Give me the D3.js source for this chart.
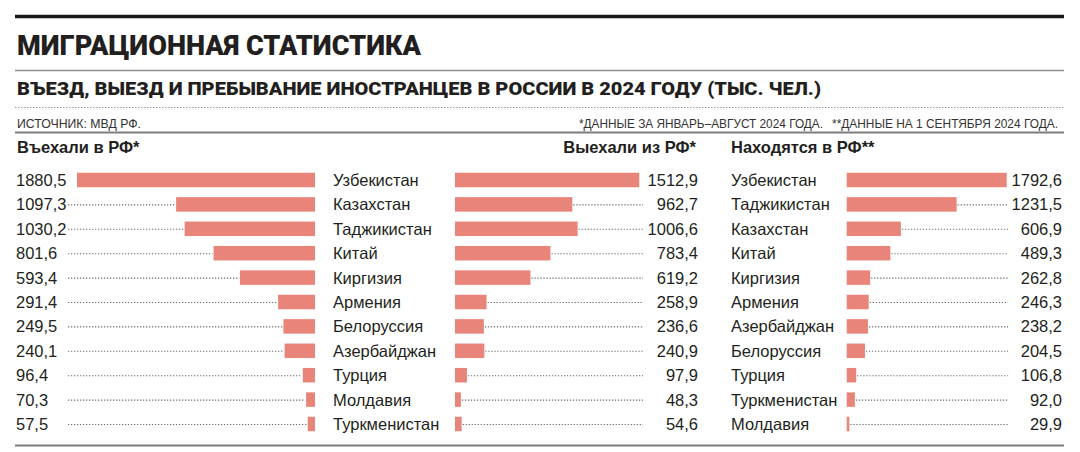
<!DOCTYPE html>
<html>
<head>
<meta charset="utf-8">
<script src="https://cdn.jsdelivr.net/npm/d3@7"></script>
<style>
  body { margin: 0; background: #fff; }
  svg { display: block; }
  text { font-family: "Liberation Sans", Arial, sans-serif; fill: #231f20; }
</style>
</head>
<body>
<div id="container"></div>
<script>
// data
var inCountries = ['Узбекистан', 'Казахстан', 'Таджикистан', 'Китай', 'Киргизия', 'Армения',
                   'Белоруссия', 'Азербайджан', 'Турция', 'Молдавия', 'Туркменистан'];
var inValues = [1880.5, 1097.3, 1030.2, 801.6, 593.4, 291.4, 249.5, 240.1, 96.4, 70.3, 57.5];
var outValues = [1512.9, 962.7, 1006.6, 783.4, 619.2, 258.9, 236.6, 240.9, 97.9, 48.3, 54.6];
var stayCountries = ['Узбекистан', 'Таджикистан', 'Казахстан', 'Китай', 'Киргизия', 'Армения',
                     'Азербайджан', 'Белоруссия', 'Турция', 'Туркменистан', 'Молдавия'];
var stayValues = [1792.6, 1231.5, 606.9, 489.3, 262.8, 246.3, 238.2, 204.5, 106.8, 92.0, 29.9];

var title = 'МИГРАЦИОННАЯ СТАТИСТИКА',
    subtitle = 'ВЪЕЗД, ВЫЕЗД И ПРЕБЫВАНИЕ ИНОСТРАНЦЕВ В РОССИИ В 2024 ГОДУ (ТЫС. ЧЕЛ.)',
    source = 'ИСТОЧНИК: МВД РФ.',
    note1 = '*ДАННЫЕ ЗА ЯНВАРЬ–АВГУСТ 2024 ГОДА.',
    note2 = '**ДАННЫЕ НА 1 СЕНТЯБРЯ 2024 ГОДА.',
    headers = ['Въехали в РФ*', 'Выехали из РФ*', 'Находятся в РФ**'];

var w = 1080, h = 452,
    barColor = '#e8847a',
    dotColor = '#6f6f6f';

var ru = d3.formatLocale({decimal: ',', thousands: '', grouping: [3], currency: ['', '']});
var fmt = ru.format('.1f');

var svg = d3.select('#container').append('svg')
    .attr('width', w)
    .attr('height', h);

/* rules */
function rule(y, sw, color, dash) {
    svg.append('line')
        .attr('x1', 15).attr('x2', 1064)
        .attr('y1', y).attr('y2', y)
        .style('stroke', color)
        .style('stroke-width', sw)
        .style('stroke-dasharray', dash || null);
}
rule(16.5, 3.5, '#1a1718');
rule(70.5, 1.5, '#8c8c8c');
rule(107.5, 1, '#9a9a9a', '1.5,1.5');
rule(132.5, 2, '#7d7d7d');
rule(445.5, 2, '#7d7d7d');

/* titles */
svg.append('text')
    .attr('x', 17).attr('y', 55)
    .attr('textLength', 404).attr('lengthAdjust', 'spacingAndGlyphs')
    .style('font-family', 'Roboto, "DejaVu Sans", sans-serif')
    .style('font-weight', 900)
    .style('font-size', '27px')
    .text(title);

svg.append('text')
    .attr('x', 17).attr('y', 95)
    .attr('textLength', 804).attr('lengthAdjust', 'spacingAndGlyphs')
    .style('font-family', 'Roboto, "DejaVu Sans", sans-serif')
    .style('font-weight', 900)
    .style('font-size', '17.5px')
    .text(subtitle);

svg.append('text')
    .attr('x', 17).attr('y', 128)
    .attr('textLength', 124).attr('lengthAdjust', 'spacingAndGlyphs')
    .style('font-size', '13px')
    .style('fill', '#333')
    .text(source);

svg.append('text')
    .attr('x', 579).attr('y', 128)
    .attr('textLength', 244).attr('lengthAdjust', 'spacingAndGlyphs')
    .style('font-size', '13px')
    .style('fill', '#333')
    .text(note1);

svg.append('text')
    .attr('x', 832).attr('y', 128)
    .attr('textLength', 226).attr('lengthAdjust', 'spacingAndGlyphs')
    .style('font-size', '13px')
    .style('fill', '#333')
    .text(note2);

/* panel headers */
var headX = [17, 696, 731],
    headAnchor = ['start', 'end', 'start'];
headers.forEach(function(t, i) {
    svg.append('text')
        .attr('x', headX[i]).attr('y', 153)
        .attr('text-anchor', headAnchor[i])
        .style('font-weight', 'bold')
        .style('font-size', '16.5px')
        .text(t);
});

/* row scale */
var y = d3.scalePoint()
    .domain(d3.range(inCountries.length))
    .range([180, 424]);
var barH = 14.5;

var xIn = d3.scaleLinear().domain([0, 1880.5]).range([315, 77]);
var xOut = d3.scaleLinear().domain([0, 1512.9]).range([455, 639.3]);
var xStay = d3.scaleLinear().domain([0, 1792.6]).range([846.7, 1006.7]);

function labelStyle(sel) {
    sel.style('font-size', '16.5px').style('fill', '#231f20');
}
function leaderStyle(sel) {
    sel.style('stroke', dotColor).style('stroke-width', 1.1).style('stroke-dasharray', '1.3,1.7');
}

// left: entered
var inRows = inValues.map(function(v, i) { return {v: v, i: i}; });
var gIn = svg.append('g');
gIn.selectAll('line')
    .data(inRows.filter(function(d) { return xIn(d.v) - 68 > 12; }))
    .enter().append('line')
    .attr('x1', 68).attr('x2', function(d) { return xIn(d.v) - 1; })
    .attr('y1', function(d) { return y(d.i) + 0.5; })
    .attr('y2', function(d) { return y(d.i) + 0.5; })
    .call(leaderStyle);
gIn.selectAll('rect').data(inRows).enter().append('rect')
    .attr('x', function(d) { return xIn(d.v); })
    .attr('width', function(d) { return xIn(0) - xIn(d.v); })
    .attr('y', function(d) { return y(d.i) - barH / 2; })
    .attr('height', barH)
    .style('fill', barColor);
gIn.selectAll('text.val').data(inRows).enter().append('text')
    .attr('class', 'val')
    .attr('x', 16)
    .attr('y', function(d) { return y(d.i) + 6; })
    .call(labelStyle)
    .text(function(d) { return fmt(d.v); });
gIn.selectAll('text.name').data(inCountries).enter().append('text')
    .attr('class', 'name')
    .attr('x', 333)
    .attr('y', function(d, i) { return y(i) + 6; })
    .call(labelStyle)
    .text(function(d) { return d; });

// middle: left the country
var outRows = outValues.map(function(v, i) { return {v: v, i: i}; });
var gOut = svg.append('g');
gOut.selectAll('line')
    .data(outRows.filter(function(d) { return 643 - xOut(d.v) > 8; }))
    .enter().append('line')
    .attr('x1', function(d) { return xOut(d.v) + 1; }).attr('x2', 643)
    .attr('y1', function(d) { return y(d.i) + 0.5; })
    .attr('y2', function(d) { return y(d.i) + 0.5; })
    .call(leaderStyle);
gOut.selectAll('rect').data(outRows).enter().append('rect')
    .attr('x', xOut(0))
    .attr('width', function(d) { return xOut(d.v) - xOut(0); })
    .attr('y', function(d) { return y(d.i) - barH / 2; })
    .attr('height', barH)
    .style('fill', barColor);
gOut.selectAll('text').data(outRows).enter().append('text')
    .attr('x', 698)
    .attr('y', function(d) { return y(d.i) + 6; })
    .attr('text-anchor', 'end')
    .call(labelStyle)
    .text(function(d) { return fmt(d.v); });

// right: staying
var stayRows = stayValues.map(function(v, i) { return {v: v, i: i}; });
var gStay = svg.append('g');
gStay.selectAll('line')
    .data(stayRows.filter(function(d) { return 1008 - xStay(d.v) > 8; }))
    .enter().append('line')
    .attr('x1', function(d) { return xStay(d.v) + 1; }).attr('x2', 1008)
    .attr('y1', function(d) { return y(d.i) + 0.5; })
    .attr('y2', function(d) { return y(d.i) + 0.5; })
    .call(leaderStyle);
gStay.selectAll('rect').data(stayRows).enter().append('rect')
    .attr('x', xStay(0))
    .attr('width', function(d) { return Math.max(1.5, xStay(d.v) - xStay(0)); })
    .attr('y', function(d) { return y(d.i) - barH / 2; })
    .attr('height', barH)
    .style('fill', barColor);
gStay.selectAll('text.val').data(stayRows).enter().append('text')
    .attr('class', 'val')
    .attr('x', 1062)
    .attr('y', function(d) { return y(d.i) + 6; })
    .attr('text-anchor', 'end')
    .call(labelStyle)
    .text(function(d) { return fmt(d.v); });
gStay.selectAll('text.name').data(stayCountries).enter().append('text')
    .attr('class', 'name')
    .attr('x', 731)
    .attr('y', function(d, i) { return y(i) + 6; })
    .call(labelStyle)
    .text(function(d) { return d; });
</script>
</body>
</html>
